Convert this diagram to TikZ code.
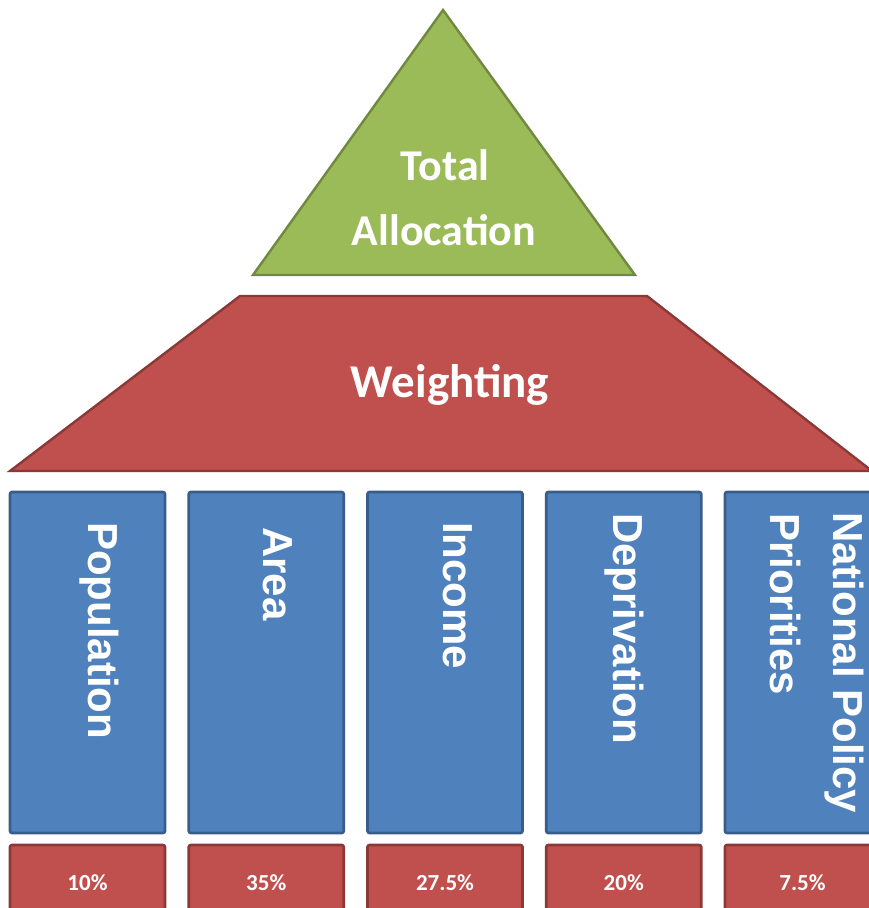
\documentclass[tikz,border=0pt]{standalone}
\usepackage{fontspec}
\setmainfont{Carlito}
\newfontfamily\colfont{Liberation Sans}[BoldFont={Liberation Sans Bold}]
\definecolor{gfill}{HTML}{9BBB59}
\definecolor{gline}{HTML}{71893F}
\definecolor{rfill}{HTML}{C0504D}
\definecolor{rline}{HTML}{8C3836}
\definecolor{bfill}{HTML}{4F81BD}
\definecolor{bline}{HTML}{385D8A}
\tikzset{
  tri/.style={fill=gfill,draw=gline,line width=2.4pt,line join=miter},
  trap/.style={fill=rfill,draw=rline,line width=2.4pt,line join=miter},
  colbox/.style={fill=bfill,draw=bline,line width=2.6pt,rounded corners=2pt},
  pctbox/.style={fill=rfill,draw=rline,line width=2.6pt,rounded corners=2pt},
  bigtext/.style={text=white,inner sep=0pt,font=\fontsize{44}{50}\selectfont\bfseries},
  wtext/.style={text=white,inner sep=0pt,font=\fontsize{47}{54}\selectfont\bfseries},
  coltext/.style={text=white,inner sep=0pt,rotate=-90,anchor=base west,font=\colfont\bfseries\fontsize{42}{48}\selectfont},
  pcttext/.style={text=white,inner sep=0pt,anchor=base,font=\fontsize{23}{26}\selectfont\bfseries}
}
\begin{document}
\begin{tikzpicture}[x=1pt,y=-1pt]
\useasboundingbox (0,0) rectangle (869,908);
\fill[white] (0,0) rectangle (869,908);
\clip (0,0) rectangle (869,908);
% triangle
\draw[tri] (443,10) -- (635,275) -- (253,275) -- cycle;
\node[bigtext,anchor=base] (total1) at (445,180) {Total};
\node[bigtext,anchor=base] (total2) at (444,245) {Allocation};
% trapezoid
\draw[trap] (240,296) -- (647,296) -- (872,471) -- (10,471) -- cycle;
\node[wtext,anchor=base] (weight) at (450,397) {Weighting};
% columns
\foreach \i in {0,...,4}{
  \pgfmathsetmacro{\xl}{10+178.75*\i}
  \draw[colbox] (\xl,492) rectangle ({\xl+155},833);
  \draw[pctbox] (\xl,845) rectangle ({\xl+155},930);
}
\node[coltext] (pop) at (88,522) {Population};
\node[coltext] (area) at (263,527) {Area};
\node[coltext] (inc) at (443,522) {Income};
\node[coltext] (dep) at (613,513) {Deprivation};
\node[coltext] (nat) at (833,512) {National Policy};
\node[coltext] (pri) at (770,513) {Priorities};
% percentages
\node[pcttext] (p1) at (87.5,890) {10\%};
\node[pcttext] (p2) at (266.25,890) {35\%};
\node[pcttext] (p3) at (445,890) {27.5\%};
\node[pcttext] (p4) at (623.75,890) {20\%};
\node[pcttext] (p5) at (802.5,890) {7.5\%};
\end{tikzpicture}
\end{document}
